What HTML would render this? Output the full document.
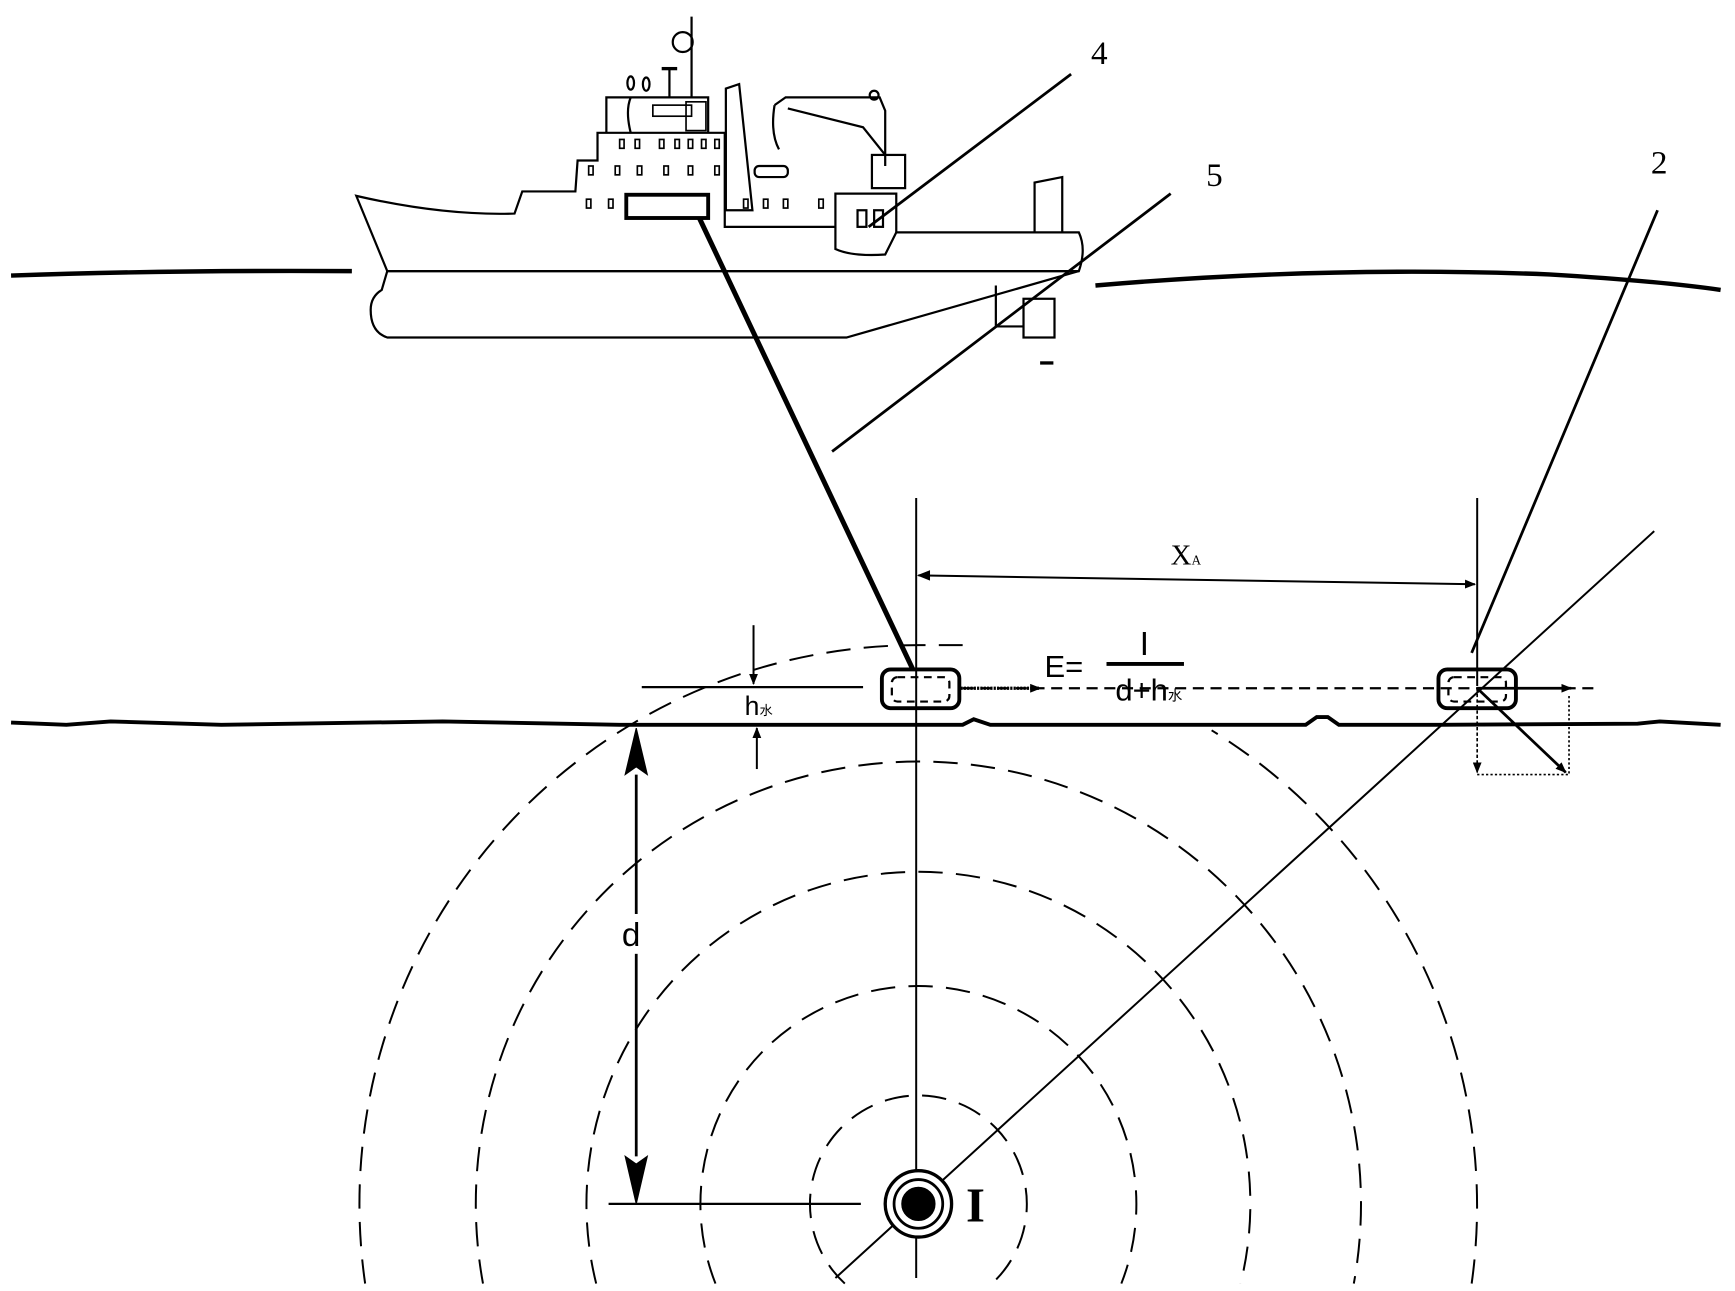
<!DOCTYPE html>
<html><head><meta charset="utf-8"><style>html,body{margin:0;padding:0;background:#fff;width:1735px;height:1291px;overflow:hidden;position:relative}svg{position:absolute;left:0;top:0;display:block}</style></head>
<body>
<svg width="1735" height="1291" viewBox="0 0 1568 1166.7" xmlns="http://www.w3.org/2000/svg">
<defs>
<marker id="ah" markerWidth="10" markerHeight="8" refX="9" refY="4" orient="auto" markerUnits="userSpaceOnUse"><path d="M0,0 L10,4 L0,8 Z" fill="#000"/></marker>
</defs>
<g fill="none" stroke="#000">
<path d="M10,249 Q150,244 318,245" stroke-width="4"/>
<path d="M990,258 Q1200,240 1400,248 Q1500,254 1555,262" stroke-width="4"/>
<path d="M10,653 L60,655 L100,652 L200,655 L400,652 L560,655 L700,655 L870,655 L880,650 L895,655 L1180,655 L1190,648 L1200,648 L1210,655 L1300,655 L1480,654 L1500,652 L1555,655" stroke-width="3.5"/>
<g stroke-width="2">
<path d="M322,177 Q400,195 465,193 L472,173 L520,173 L522,145 L540,145 L540,120 L655,120 L655,205 L755,205 L755,175 L810,175 L810,210 L975,210 Q982,225 975,245 L350,245 Z"/>
<path d="M350,245 L975,245 L765,305 L350,305 Q335,300 335,280 Q335,268 345,262 Z"/>
<path d="M548,120 L548,88 L640,88 L640,120"/>
<path d="M570,120 Q565,100 570,88"/>
<rect x="590" y="95" width="35" height="10" stroke-width="1.5"/>
<rect x="620" y="92" width="18" height="26" stroke-width="1.5"/>
<line x1="625" y1="15" x2="625" y2="88"/>
<circle cx="617" cy="38" r="9"/>
<line x1="598" y1="62" x2="612" y2="62" stroke-width="3"/>
<line x1="605" y1="62" x2="605" y2="88"/>
<ellipse cx="570" cy="75" rx="3" ry="6"/><ellipse cx="584" cy="76" rx="3" ry="6"/>
<path d="M656,80 L668,76 L680,190 L656,190 Z"/>
<path d="M700,95 L710,88 L795,88 L800,100 L800,150"/>
<path d="M712,98 L780,115 L800,140"/>
<path d="M700,95 Q696,120 704,135"/>
<circle cx="790" cy="86" r="4"/>
<rect x="788" y="140" width="30" height="30"/>
<rect x="682" y="150" width="30" height="10" rx="4"/>
<path d="M755,205 L755,225 Q770,232 800,230 L810,210"/>
<rect x="775" y="190" width="8" height="15"/><rect x="790" y="190" width="8" height="15"/>
<path d="M935,210 L935,165 L960,160 L960,210"/>
<path d="M900,258 L900,295 L925,295"/>
<rect x="925" y="270" width="28" height="35"/>
<line x1="940" y1="328" x2="952" y2="328" stroke-width="3"/>
</g>
<g stroke-width="1.5">
<rect x="560" y="126" width="4" height="8"/><rect x="574" y="126" width="4" height="8"/><rect x="596" y="126" width="4" height="8"/><rect x="610" y="126" width="4" height="8"/><rect x="622" y="126" width="4" height="8"/><rect x="634" y="126" width="4" height="8"/><rect x="646" y="126" width="4" height="8"/>
<rect x="532" y="150" width="4" height="8"/><rect x="556" y="150" width="4" height="8"/><rect x="576" y="150" width="4" height="8"/><rect x="600" y="150" width="4" height="8"/><rect x="622" y="150" width="4" height="8"/><rect x="646" y="150" width="4" height="8"/>
<rect x="530" y="180" width="4" height="8"/><rect x="550" y="180" width="4" height="8"/><rect x="672" y="180" width="4" height="8"/><rect x="690" y="180" width="4" height="8"/><rect x="708" y="180" width="4" height="8"/><rect x="740" y="180" width="4" height="8"/>
</g>
<rect x="566" y="176" width="74" height="21" stroke-width="3.5"/>
<line x1="632" y1="197" x2="825" y2="605" stroke-width="4.5"/>
<line x1="968" y1="67" x2="785" y2="205" stroke-width="2.5"/>
<line x1="1058" y1="175" x2="752" y2="408" stroke-width="2.5"/>
<line x1="1498" y1="190" x2="1330" y2="590" stroke-width="2.5"/>
<line x1="828" y1="450" x2="828" y2="1155" stroke-width="1.8"/>
<line x1="1335" y1="450" x2="1335" y2="620" stroke-width="1.8"/>
<line x1="830" y1="520" x2="1333" y2="528" stroke-width="1.8" marker-end="url(#ah)"/>
<path d="M840,516 L830,520 L840,524 Z" fill="#000"/>
<line x1="1495" y1="480" x2="755" y2="1155" stroke-width="1.8"/>
<g stroke-width="1.8" stroke-dasharray="22,12">
<path d="M763.5,1160 A98,98 0 1 1 896.5,1160"/>
<path d="M646.6,1160 A197,197 0 1 1 1013.4,1160"/>
<path d="M538.8,1160 A300,300 0 1 1 1121.2,1160"/>
<path d="M436.5,1160 A400,400 0 1 1 1223.5,1160"/>
<path d="M330,1160 A505,505 0 0 1 830,583 L870,583"/>
<path d="M1330,1160 A505,505 0 0 0 1095,660"/>
</g>
<rect x="797" y="605" width="70" height="35" rx="8" stroke-width="3.5"/>
<rect x="806" y="612" width="52" height="22" rx="5" stroke-width="2" stroke-dasharray="7,5"/>
<rect x="1300" y="605" width="70" height="35" rx="8" stroke-width="3.5"/>
<rect x="1309" y="612" width="52" height="22" rx="5" stroke-width="2" stroke-dasharray="7,5"/>
<line x1="580" y1="621" x2="780" y2="621" stroke-width="2"/>
<line x1="870" y1="622" x2="1440" y2="622" stroke-width="2" stroke-dasharray="10,6"/>
<line x1="868" y1="622" x2="940" y2="622" stroke-width="3" stroke-dasharray="2,1" marker-end="url(#ah)"/>
<line x1="1335" y1="622" x2="1420" y2="622" stroke-width="2.5" marker-end="url(#ah)"/>
<line x1="1335" y1="622" x2="1415" y2="698" stroke-width="2.5" marker-end="url(#ah)"/>
<line x1="1335" y1="622" x2="1335" y2="698" stroke-width="1.5" stroke-dasharray="3,2" marker-end="url(#ah)"/>
<path d="M1335,700 L1418,700 L1418,628" stroke-width="1.5" stroke-dasharray="2,2"/>
<line x1="681" y1="565" x2="681" y2="618" stroke-width="1.8" marker-end="url(#ah)"/>
<line x1="684" y1="695" x2="684" y2="658" stroke-width="1.8" marker-end="url(#ah)"/>
<line x1="575" y1="700" x2="575" y2="1045" stroke-width="2.5"/>
<rect x="560" y="826" width="30" height="36" fill="#fff" stroke="none"/>
<path d="M575,658 L565,700 L575,693 L585,700 Z" fill="#000"/>
<path d="M575,1088 L565,1045 L575,1052 L585,1045 Z" fill="#000"/>
<line x1="550" y1="1088" x2="778" y2="1088" stroke-width="2"/>
<line x1="1000" y1="600" x2="1070" y2="600" stroke-width="3.5"/>
<circle cx="830" cy="1088" r="30" stroke-width="3" fill="#fff"/>
<circle cx="830" cy="1088" r="22" stroke-width="2.5"/>
<circle cx="830" cy="1088" r="15" fill="#000"/>
</g>
<g font-family="Liberation Serif, serif" fill="#000">
<text x="986" y="58" font-size="30">4</text>
<text x="1090" y="168" font-size="30">5</text>
<text x="1492" y="157" font-size="30">2</text>
<text x="1058" y="510" font-size="26">X<tspan font-size="12">A</tspan></text>
<text x="873" y="1104" font-size="44" font-weight="bold">I</text>
</g>
<g font-family="Liberation Sans, 'Noto Sans CJK SC', sans-serif" fill="#000">
<text x="944" y="612" font-size="28">E=</text>
<text x="1030" y="592" font-size="30">I</text>
<text x="1008" y="633" font-size="28">d+h<tspan font-size="13">水</tspan></text>
<text x="673" y="646" font-size="24">h<tspan font-size="12">水</tspan></text>
<text x="562" y="855" font-size="30">d</text>
</g>
</svg>
</body></html>
